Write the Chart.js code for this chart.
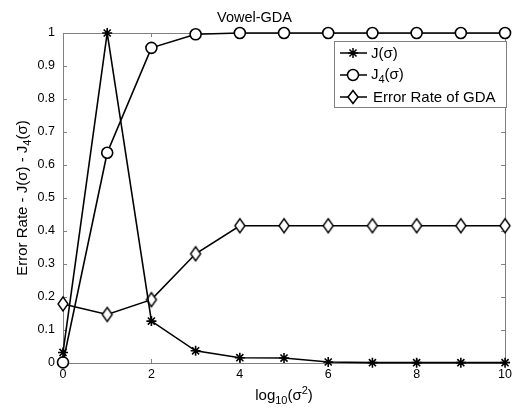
<!DOCTYPE html>
<html><head><meta charset="utf-8">
<script src="https://cdn.jsdelivr.net/npm/chart.js@4/dist/chart.umd.min.js"></script>
<style>html,body{margin:0;padding:0;background:#fff}#wrap{width:516px;height:411px}</style>
</head><body><div id="wrap"><canvas id="c" width="516" height="411"></canvas></div>
<script>
const xValues = [0,1,2,3,4,5,6,7,8,9,10];
const jSigma = [0.032, 1.0, 0.127, 0.037, 0.016, 0.015, 0.003, 0.001, 0.001, 0.001, 0.001];
const j4Sigma = [0.002, 0.637, 0.955, 0.996, 1, 1, 1, 1, 1, 1, 1];
const errorRateGDA = [0.179, 0.147, 0.192, 0.331, 0.416, 0.416, 0.416, 0.416, 0.416, 0.416, 0.416];
const yTickValues = [0,0.1,0.2,0.3,0.4,0.5,0.6,0.7,0.8,0.9,1];
const yTickLabels = ['0','0.1','0.2','0.3','0.4','0.5','0.6','0.7','0.8','0.9','1'];
const xTickValues = [0,2,4,6,8,10];
const xTickLabels = ['0','2','4','6','8','10'];
const seriesNames = ['J(σ)', 'J4(σ)', 'Error Rate of GDA'];

const FONT = '"Liberation Sans", Arial, sans-serif';
const AXIS_GRAY = '#808080';

function drawStar(ctx, x, y, r) {
  ctx.beginPath();
  for (let i = 0; i < 4; i++) {
    const a = i * Math.PI / 4;
    ctx.moveTo(x - r * Math.cos(a), y - r * Math.sin(a));
    ctx.lineTo(x + r * Math.cos(a), y + r * Math.sin(a));
  }
  ctx.stroke();
}
function drawCircle(ctx, x, y, r) {
  ctx.beginPath(); ctx.arc(x, y, r, 0, Math.PI * 2);
  ctx.fillStyle = '#fff'; ctx.fill(); ctx.stroke();
}
function drawDiamond(ctx, x, y, w, h) {
  ctx.beginPath();
  ctx.moveTo(x, y - h); ctx.lineTo(x + w, y); ctx.lineTo(x, y + h); ctx.lineTo(x - w, y); ctx.closePath();
  ctx.fillStyle = '#fff'; ctx.fill(); ctx.stroke();
}
const diamondImg = document.createElement('canvas');
diamondImg.width = 14; diamondImg.height = 18;
(function(){ const c = diamondImg.getContext('2d'); c.strokeStyle = '#000'; c.lineWidth = 1.4; drawDiamond(c, 7, 9, 5, 7); })();

function pts(arr) { return arr.map((v, i) => ({x: xValues[i], y: v})); }

function richWidth(ctx, segs, fs, sfs) {
  let w = 0;
  segs.forEach(s => { ctx.font = (s.k === 'n' ? fs : sfs) + 'px ' + FONT; w += ctx.measureText(s.t).width; });
  return w;
}
function drawRich(ctx, segs, x, y, fs, sfs) {
  let cx = x;
  ctx.textBaseline = 'alphabetic'; ctx.textAlign = 'left';
  segs.forEach(s => {
    ctx.font = (s.k === 'n' ? fs : sfs) + 'px ' + FONT;
    const dy = s.k === 'sub' ? 4 : (s.k === 'sup' ? -6 : 0);
    ctx.fillText(s.t, cx, y + dy);
    cx += ctx.measureText(s.t).width;
  });
}

const framePlugin = {
  id: 'frame',
  beforeDatasetsDraw(chart) {
    const {ctx, chartArea: a, scales} = chart;
    ctx.save();
    ctx.strokeStyle = AXIS_GRAY; ctx.lineWidth = 1;
    ctx.strokeRect(Math.round(a.left) + 0.5, Math.round(a.top) + 0.5, Math.round(a.right - a.left), Math.round(a.bottom - a.top));
    ctx.beginPath();
    yTickValues.forEach(v => {
      const py = Math.round(scales.y.getPixelForValue(v)) + 0.5;
      ctx.moveTo(a.left, py); ctx.lineTo(a.left + 4, py);
      ctx.moveTo(a.right, py); ctx.lineTo(a.right - 4, py);
    });
    xTickValues.forEach(v => {
      const px = Math.round(scales.x.getPixelForValue(v)) + 0.5;
      ctx.moveTo(px, a.bottom); ctx.lineTo(px, a.bottom - 4);
      ctx.moveTo(px, a.top); ctx.lineTo(px, a.top + 4);
    });
    ctx.stroke();
    ctx.restore();
  },
  afterDraw(chart) {
    const {ctx, chartArea: a} = chart;
    ctx.save();
    ctx.fillStyle = '#000';
    const xs = [{t:'log', k:'n'}, {t:'10', k:'sub'}, {t:'(σ', k:'n'}, {t:'2', k:'sup'}, {t:')', k:'n'}];
    const xw = richWidth(ctx, xs, 15, 11);
    drawRich(ctx, xs, (a.left + a.right) / 2 - xw / 2, 400, 15, 11);
    const ys = [{t:'Error Rate - J(σ) - J', k:'n'}, {t:'4', k:'sub'}, {t:'(σ)', k:'n'}];
    const yw = richWidth(ctx, ys, 15, 11);
    ctx.translate(27, (a.top + a.bottom) / 2);
    ctx.rotate(-Math.PI / 2);
    drawRich(ctx, ys, -yw / 2, 0, 15, 11);
    ctx.restore();

    // legend
    ctx.save();
    const lx = 334, ly = 41, lw = 172, lh = 66;
    ctx.fillStyle = '#fff'; ctx.fillRect(lx, ly, lw, lh);
    ctx.strokeStyle = AXIS_GRAY; ctx.lineWidth = 1;
    ctx.strokeRect(lx + 0.5, ly + 0.5, lw, lh);
    const rows = [53, 75, 97];
    ctx.strokeStyle = '#000'; ctx.lineWidth = 1.5;
    rows.forEach((ry, i) => {
      ctx.beginPath(); ctx.moveTo(340, ry); ctx.lineTo(367, ry); ctx.stroke();
      if (i === 0) drawStar(ctx, 353, ry, 5);
      if (i === 1) drawCircle(ctx, 353, ry, 5.5);
      if (i === 2) drawDiamond(ctx, 353, ry, 5, 6.5);
    });
    ctx.fillStyle = '#000';
    drawRich(ctx, [{t:'J(σ)', k:'n'}], 371, rows[0] + 5, 15, 11);
    drawRich(ctx, [{t:'J', k:'n'}, {t:'4', k:'sub'}, {t:'(σ)', k:'n'}], 371, rows[1] + 4, 15, 11);
    drawRich(ctx, [{t:'Error Rate of GDA', k:'n'}], 373, rows[2] + 5, 15, 11);
    ctx.restore();
  }
};

new Chart(document.getElementById('c'), {
  type: 'line',
  data: {
    datasets: [
      { label: seriesNames[0], data: pts(jSigma), borderColor: '#000', borderWidth: 1.6, pointStyle: 'star', pointRadius: 5, pointBorderColor: '#000', pointBorderWidth: 1.6, pointBackgroundColor: '#000', clip: false, order: 1, tension: 0 },
      { label: seriesNames[1], data: pts(j4Sigma), borderColor: '#000', borderWidth: 1.6, pointStyle: 'circle', pointRadius: 5.5, pointBorderColor: '#000', pointBorderWidth: 1.6, pointBackgroundColor: '#fff', clip: false, order: 2, tension: 0 },
      { label: seriesNames[2], data: pts(errorRateGDA), borderColor: '#000', borderWidth: 1.6, pointStyle: diamondImg, pointRadius: 7, clip: false, order: 3, tension: 0 }
    ]
  },
  options: {
    responsive: false,
    animation: false,
    devicePixelRatio: 1,
    layout: { padding: { left: 0, right: 7, top: 0, bottom: 0 } },
    plugins: {
      legend: { display: false },
      tooltip: { enabled: false },
      title: { display: true, text: 'Vowel-GDA', color: '#000', font: { family: FONT, size: 14.5, weight: 'normal' }, padding: { top: 9, bottom: 6.6 } }
    },
    scales: {
      x: {
        type: 'linear', min: 0, max: 10,
        afterBuildTicks: s => { s.ticks = xTickValues.map(v => ({value: v})); },
        ticks: { color: '#000', font: { family: FONT, size: 12.5 }, padding: 4, maxRotation: 0, autoSkip: false,
          callback: (v) => xTickLabels[xTickValues.indexOf(v)] },
        grid: { display: false, drawTicks: false }, border: { display: false },
        afterFit: s => { s.height = 48; }
      },
      y: {
        type: 'linear', min: 0, max: 1,
        afterBuildTicks: s => { s.ticks = yTickValues.map(v => ({value: v})); },
        ticks: { color: '#000', font: { family: FONT, size: 12.5 }, padding: 8, autoSkip: false,
          callback: (v) => yTickLabels[yTickValues.findIndex(t => Math.abs(t - v) < 1e-9)] },
        grid: { display: false, drawTicks: false }, border: { display: false },
        afterFit: s => { s.width = 63; }
      }
    }
  },
  plugins: [framePlugin]
});
</script></body></html>
